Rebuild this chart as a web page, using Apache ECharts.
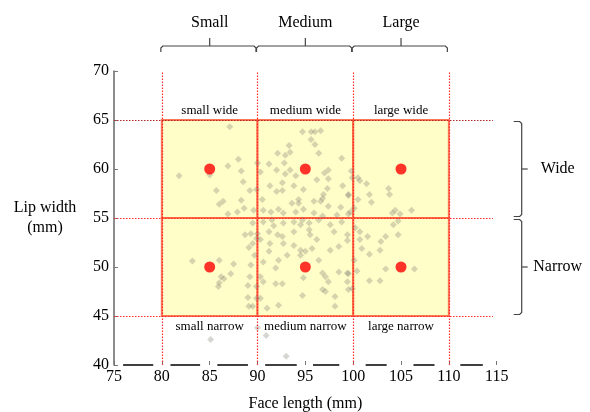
<!DOCTYPE html>
<html><head><meta charset="utf-8">
<script src="https://cdn.jsdelivr.net/npm/echarts@6/dist/echarts.min.js"></script>
<style>html,body{margin:0;padding:0;background:#fff}#c{width:590px;height:412px}</style>
</head><body><div id="c"></div>
<script>
const FONT = '"Liberation Serif", "DejaVu Serif", serif';
const sizeGroups = [[80, 90, 'Small'], [90, 100, 'Medium'], [100, 110, 'Large']];
const widthGroups = [[55, 65, 'Wide'], [45, 55, 'Narrow']];
const cellNames = ['small wide', 'medium wide', 'large wide', 'small narrow', 'medium narrow', 'large narrow'];
const cellX = [[80, 90], [90, 100], [100, 110], [80, 90], [90, 100], [100, 110]];
const cellY = [[55, 65], [55, 65], [55, 65], [45, 55], [45, 55], [45, 55]];
const prototypes = [[85, 60], [95, 60], [105, 60], [85, 50], [95, 50], [105, 50]];
const verticalCuts = [80, 90, 100, 110];
const horizontalCuts = [65, 55, 45];
const axisSegments = [[75.95, 79.1], [80.9, 84.0], [85.8, 89.0], [90.8, 94.1], [95.8, 98.55], [101.3, 103.5], [106.3, 108.5], [111.2, 113.55]];

const smallWide = [[87.1,64.3],[88.0,61.0],[86.9,60.3],[88.3,59.8],[81.8,59.3],[85.0,59.4],[88.5,58.7],[90.0,60.6],[85.7,57.8],[89.2,57.8],[89.9,57.9],[88.3,56.8],[86.4,56.7],[86.0,56.4],[88.6,56.0],[86.9,55.4],[87.9,55.6]];
const smallNarrow = [[88.7,53.3],[89.3,53.4],[89.5,52.4],[89.1,52.0],[89.9,52.9],[83.2,50.6],[86.0,50.7],[87.5,50.3],[87.2,49.3],[86.2,49.0],[86.5,48.8],[86.0,48.4],[85.9,48.0],[89.2,49.0],[89.0,48.1],[89.7,51.2],[89.3,50.2],[89.0,46.9],[89.1,46.0],[89.9,48.0],[89.9,46.8]];
const outside = [[85.1,42.6],[90.9,43.0],[93.0,40.9],[90.0,43.8]];
const mediumWide = [[94.7,63.8],[95.6,63.8],[96.0,63.8],[96.6,63.9],[95.6,63.0],[93.3,62.4],[96.0,62.5],[93.4,61.7],[92.1,61.6],[92.9,61.4],[96.4,61.6],[98.8,61.1],[92.8,60.6],[91.2,60.5],[92.0,59.9],[93.4,59.9],[90.3,59.7],[97.4,59.9],[97.0,59.6],[92.9,59.5],[94.0,59.3],[99.8,59.8],[97.4,59.0],[92.6,58.6],[96.2,58.9],[93.8,58.3],[91.3,58.3],[94.8,57.9],[92.0,57.7],[92.6,57.8],[97.3,58.0],[98.9,58.3],[96.9,57.4],[96.8,57.0],[96.6,56.7],[95.9,56.7],[94.3,56.9],[94.3,56.5],[93.6,56.5],[90.5,56.9],[99.5,57.4],[97.4,56.2],[98.7,56.1],[94.8,55.9],[92.2,55.9],[90.6,55.8],[92.7,55.5],[95.9,55.5],[99.7,55.6],[89.6,55.8]];
const mediumNarrow = [[89.5,54.5],[90.6,54.6],[91.5,54.8],[91.7,54.2],[92.7,54.5],[93.8,54.6],[94.5,54.3],[94.7,54.8],[95.4,54.5],[96.4,54.8],[97.6,54.3],[98.8,54.6],[90.0,53.4],[91.2,53.6],[92.1,53.3],[92.6,53.1],[93.8,53.6],[95.4,53.8],[95.5,53.3],[96.2,52.8],[98.0,53.6],[99.4,53.3],[90.3,52.8],[91.3,52.4],[92.7,52.4],[93.8,52.2],[94.5,51.7],[94.5,51.2],[95.0,51.6],[95.7,51.9],[97.6,51.7],[98.5,52.1],[96.4,50.7],[93.1,51.2],[92.2,50.7],[90.6,50.5],[91.2,51.6],[91.9,49.9],[90.3,49.0],[90.6,48.5],[91.9,48.3],[92.6,48.3],[94.8,48.9],[96.8,49.4],[97.1,49.0],[97.4,48.5],[98.5,49.5],[99.4,49.4],[96.8,47.7],[97.1,47.5],[98.1,47.0],[99.5,47.7],[92.2,46.1],[91.0,45.8],[98.1,46.0],[94.7,47.1],[90.3,46.8],[89.5,46.0],[91.4,55.6],[94.0,55.6],[96.8,55.2],[98.3,55.3]];
const largeWide = [[99.9,59.1],[100.5,59.1],[100.7,58.8],[101.4,58.5],[103.7,58.0],[103.8,57.4],[101.7,57.4],[100.5,56.9],[101.9,56.6],[99.5,57.3],[100.1,56.0],[104.4,55.8],[104.1,55.5],[104.9,55.4],[106.1,55.8],[99.5,55.4]];
const largeNarrow = [[104.2,54.3],[104.7,54.7],[104.7,53.3],[103.4,53.1],[102.9,52.6],[101.5,53.1],[100.7,52.8],[100.7,53.6],[100.2,54.0],[99.4,52.7],[100.9,51.9],[102.8,51.7],[101.7,51.3],[100.1,50.7],[103.4,49.8],[106.4,49.8],[100.4,49.6],[99.5,49.3],[101.7,48.6],[102.8,48.6],[99.9,47.8],[99.4,48.5]];
const faces = [].concat(smallWide, smallNarrow, outside, mediumWide, mediumNarrow, largeWide, largeNarrow);

const X_MIN = 75, X_MAX = 115, Y_MIN = 40, Y_MAX = 70;

const chart = echarts.init(document.getElementById('c'), null, {renderer: 'canvas'});

const redDot = {type: [1.5, 1.5], color: '#ff2a2a', width: 1.2};
const darkDot = {type: [1.5, 1.5], color: '#b02828', width: 1};
const cutLines = [];
verticalCuts.forEach(v => cutLines.push([{coord: [v, Y_MIN], lineStyle: redDot}, {coord: [v, Y_MAX]}]));
horizontalCuts.forEach(h => cutLines.push([{coord: [X_MIN, h], lineStyle: h === 65 ? darkDot : redDot}, {coord: [114.6, h]}]));

const areas = cellNames.map((n, i) => {
  const wide = cellY[i][0] === 55;
  return [
    {name: n, coord: [cellX[i][0], cellY[i][1]], label: {position: wide ? 'top' : 'bottom', distance: wide ? 2 : 3}},
    {coord: [cellX[i][1], cellY[i][0]]}
  ];
});

const option = {
  animation: false,
  backgroundColor: '#fff',
  grid: {left: 114, right: 93.3, top: 71, bottom: 47, containLabel: false, outerBoundsMode: 'none'},
  xAxis: {
    type: 'value', min: X_MIN, max: X_MAX, interval: 5,
    name: 'Face length (mm)', nameLocation: 'middle', nameGap: 31,
    nameTextStyle: {fontFamily: FONT, fontSize: 16, color: '#000'},
    axisLine: {show: false},
    axisTick: {show: true, inside: true, length: 4, lineStyle: {color: '#777', width: 1}},
    axisLabel: {fontFamily: FONT, fontSize: 16, color: '#000', margin: 4},
    splitLine: {show: false}
  },
  yAxis: {
    type: 'value', min: Y_MIN, max: Y_MAX, interval: 5,
    name: 'Lip width\n(mm)', nameLocation: 'middle', nameRotate: 0, nameGap: 69,
    nameTextStyle: {fontFamily: FONT, fontSize: 16, color: '#000', lineHeight: 20, align: 'center'},
    axisLine: {show: true, lineStyle: {color: '#666', width: 1.5}},
    axisTick: {show: true, inside: true, length: 4, lineStyle: {color: '#777', width: 1}},
    axisLabel: {fontFamily: FONT, fontSize: 16, color: '#000', margin: 5},
    splitLine: {show: false}
  },
  series: [
    {
      type: 'scatter', name: 'cells', data: [], z: 1, silent: true,
      markArea: {
        silent: true,
        itemStyle: {color: '#fffdc8', borderColor: 'rgba(255,95,60,0.85)', borderWidth: 2},
        label: {show: true, color: '#000', fontFamily: FONT, fontSize: 13},
        data: areas
      }
    },
    {
      type: 'scatter', name: 'faces', data: faces, z: 3, silent: true,
      symbol: 'diamond', symbolSize: 7,
      itemStyle: {color: 'rgba(120,120,110,0.38)'}
    },
    {
      type: 'scatter', name: 'cuts', data: [], z: 4, silent: true,
      itemStyle: {color: '#ff2a2a'},
      markLine: {
        silent: true, symbol: ['none', 'none'], label: {show: false},
        lineStyle: redDot,
        data: cutLines
      }
    },
    {
      type: 'scatter', name: 'axisSegments', data: [], z: 4, silent: true,
      itemStyle: {color: '#000'},
      markLine: {
        silent: true, symbol: ['none', 'none'], label: {show: false},
        lineStyle: {type: 'solid', color: '#000', width: 1.5},
        data: axisSegments.map(s => [{coord: [s[0], Y_MIN]}, {coord: [s[1], Y_MIN]}])
      }
    },
    {
      type: 'scatter', name: 'prototypes', data: prototypes, z: 5, silent: true,
      symbol: 'circle', symbolSize: 11, itemStyle: {color: '#ff0000'}
    },
    {
      type: 'custom', name: 'sizeBraces', clip: false, silent: true, z: 5,
      data: sizeGroups.map(g => [(g[0] + g[1]) / 2, Y_MAX]),
      renderItem: (params, api) => {
        const g = sizeGroups[params.dataIndex];
        const a = api.coord([g[0], Y_MAX]), b = api.coord([g[1], Y_MAX]);
        const x0 = a[0] - 1, x1 = b[0] - 1.5, xm = (a[0] + b[0]) / 2, y = a[1] - 25;
        const ls = {stroke: '#444', lineWidth: 1.2, fill: null};
        return {type: 'group', children: [
          {type: 'polyline', shape: {points: [[x0, y + 6], [x0, y + 2], [x0 + 2, y], [x1 - 2, y], [x1, y + 2], [x1, y + 6]]}, style: ls},
          {type: 'polyline', shape: {points: [[xm, y], [xm, y - 8]]}, style: ls},
          {type: 'text', style: {text: g[2], x: xm, y: a[1] - 48, align: 'center', verticalAlign: 'middle', textAlign: 'center', textVerticalAlign: 'middle', font: '16px ' + FONT, fill: '#000'}}
        ]};
      }
    },
    {
      type: 'custom', name: 'widthBraces', clip: false, silent: true, z: 5,
      data: widthGroups.map(g => [X_MAX, (g[0] + g[1]) / 2]),
      renderItem: (params, api) => {
        const g = widthGroups[params.dataIndex];
        const p = api.coord([X_MAX, g[1]]), q = api.coord([X_MAX, g[0]]);
        const x = p[0] + 25, y0 = p[1] + 1.5, y1 = q[1] - 1.5, ym = (p[1] + q[1]) / 2;
        const ls = {stroke: '#444', lineWidth: 1.2, fill: null};
        return {type: 'group', children: [
          {type: 'polyline', shape: {points: [[x - 8, y0], [x - 2, y0], [x, y0 + 2], [x, y1 - 2], [x - 2, y1], [x - 8, y1]]}, style: ls},
          {type: 'polyline', shape: {points: [[x, ym], [x + 6, ym]]}, style: ls},
          {type: 'text', style: {text: g[2], x: x + 36, y: ym, align: 'center', verticalAlign: 'middle', textAlign: 'center', textVerticalAlign: 'middle', font: '16px ' + FONT, fill: '#000'}}
        ]};
      }
    }
  ]
};
chart.setOption(option);
</script>
</body></html>
